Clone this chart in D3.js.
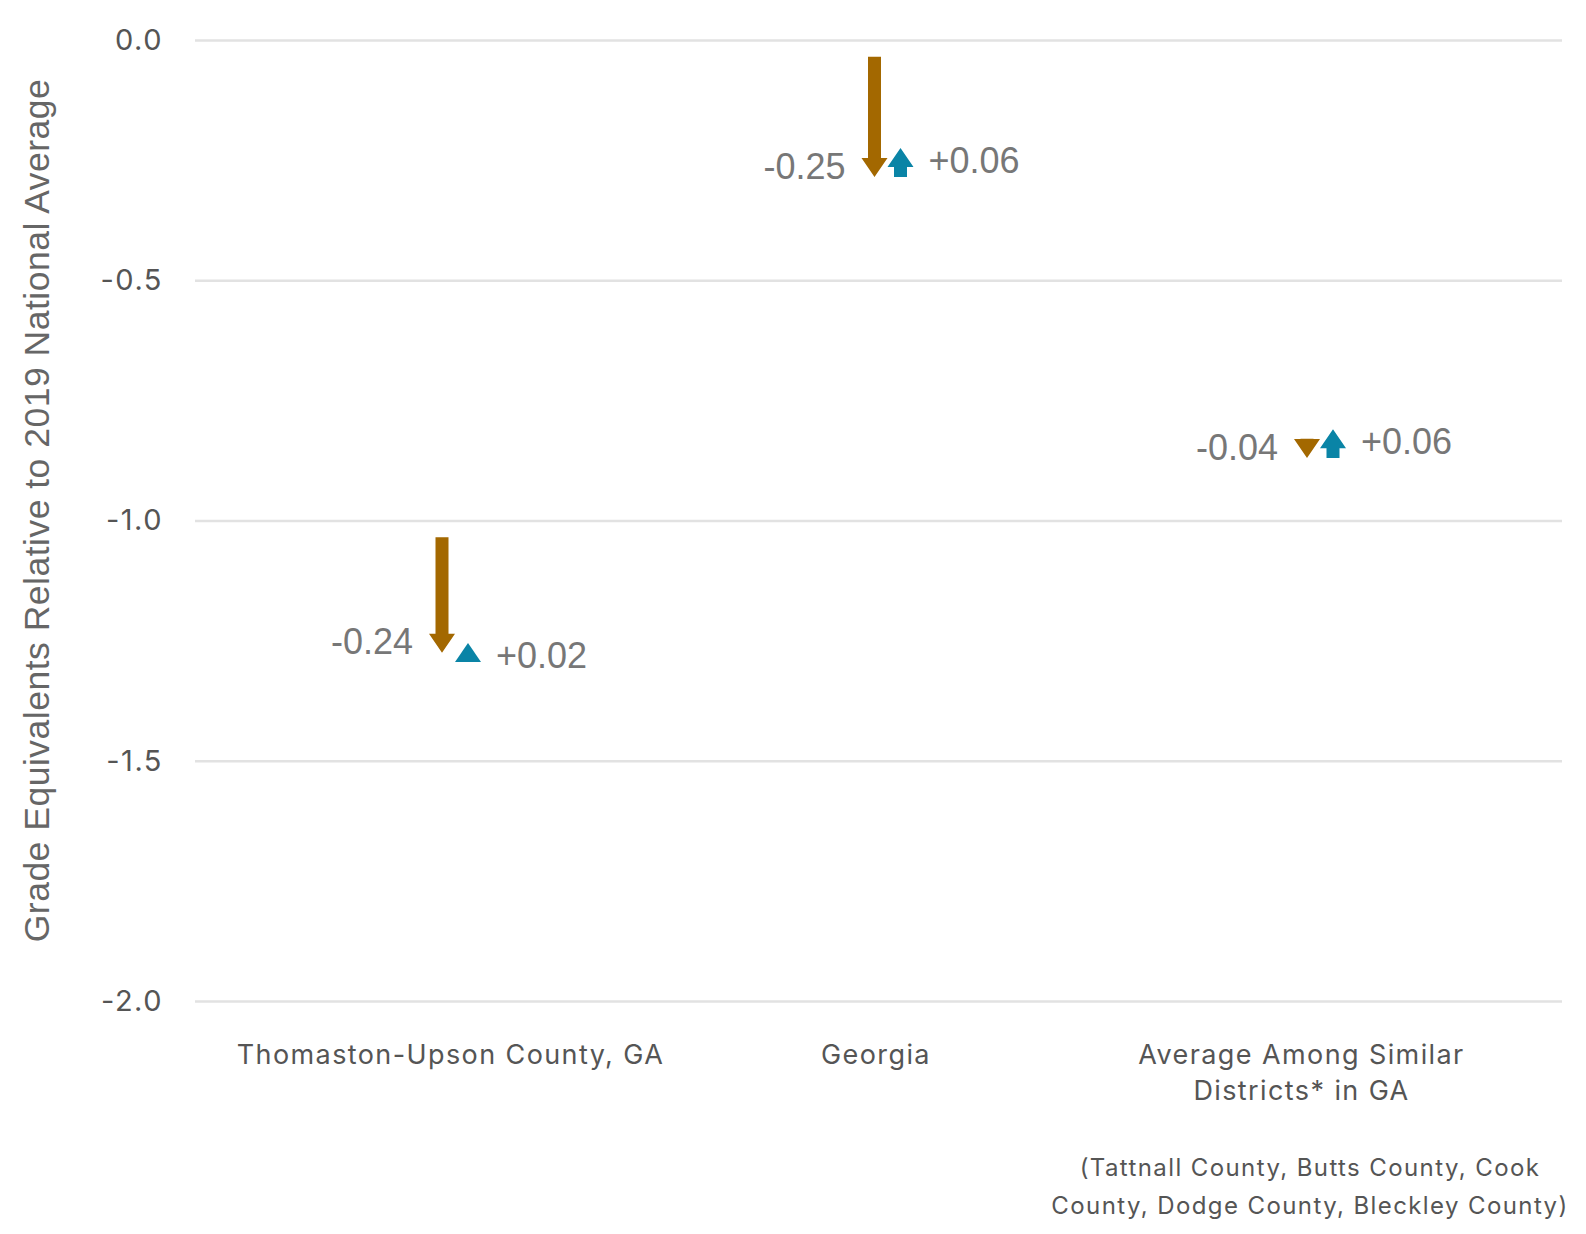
<!DOCTYPE html>
<html>
<head>
<meta charset="utf-8">
<script src="https://cdn.jsdelivr.net/npm/d3@7"></script>
<style>
  html, body { margin: 0; padding: 0; background: #fff; overflow: hidden; }
  svg { display: block; }
</style>
</head>
<body>
<svg id="viz"></svg>
<script>
const width = 1586, height = 1234;

// data
const categories = ["Thomaston-Upson County, GA", "Georgia", "Average Among Similar Districts* in GA"];
const startVals = [-1.035, -0.035, -0.83];
const dropVals = [-0.24, -0.25, -0.04];
const recoveryVals = [0.02, 0.06, 0.06];
const dropLabels = ["-0.24", "-0.25", "-0.04"];
const recoveryLabels = ["+0.02", "+0.06", "+0.06"];
const yTicks = [0, -0.5, -1.0, -1.5, -2.0];
const footnote = ["(Tattnall County, Butts County, Cook", "County, Dodge County, Bleckley County)"];

const brown = "#a36800", blue = "#0a84a6";
const left = 195, right = 1562;

const svg = d3.select("#viz").attr("width", width).attr("height", height);

const y = d3.scaleLinear().domain([0, -2]).range([40, 1001]);
const x = d3.scalePoint().domain(categories).range([left + 260, right - 242]);
const xLab = d3.scalePoint().domain(categories).range([left + 255, right - 261]);

// grid + ticks
const yAxis = d3.axisLeft(y).tickValues(yTicks).tickFormat(d => d.toFixed(1)).tickSize(-(right - left)).tickPadding(32);
const gy = svg.append("g").attr("transform", "translate(" + left + ",0)").call(yAxis);
gy.select(".domain").remove();
gy.selectAll(".tick line").attr("stroke", "#e2e2e2").attr("stroke-width", 2.5);
gy.selectAll(".tick text")
  .attr("fill", "#555")
  .attr("font-family", "Inter, sans-serif")
  .attr("font-size", 29)
  .attr("letter-spacing", "1.5px");

// category labels
const xAxis = d3.axisBottom(xLab).tickSize(0).tickPadding(0);
const gx = svg.append("g").attr("transform", "translate(0,1055)").call(xAxis);
gx.select(".domain").remove();
gx.selectAll(".tick text")
  .attr("fill", "#555")
  .attr("font-family", "Inter, sans-serif")
  .attr("font-size", 27)
  .attr("letter-spacing", "1.4px")
  .attr("dy", null)
  .each(function(d) {
    const t = d3.select(this);
    t.text(null);
    const lines = d.startsWith("Average") ? ["Average Among Similar", "Districts* in GA"] : [d];
    lines.forEach((l, i) => t.append("tspan").attr("x", 0).attr("y", i * 36).attr("dy", "0.35em").text(l));
  });

// footnote
svg.append("text")
  .attr("x", 1310).attr("y", 1168)
  .attr("text-anchor", "middle")
  .attr("fill", "#555")
  .attr("font-family", "Inter, sans-serif")
  .attr("font-size", 24)
  .attr("letter-spacing", "1.4px")
  .selectAll("tspan").data(footnote).enter().append("tspan")
  .attr("x", 1310).attr("dy", (d, i) => i === 0 ? "0.35em" : "38px")
  .text(d => d);

// y title
svg.append("text")
  .attr("transform", "translate(37," + ((y(0) + y(-2)) / 2 - 10) + ") rotate(-90)")
  .attr("text-anchor", "middle")
  .attr("dy", "0.35em")
  .attr("fill", "#666")
  .attr("font-family", "'Liberation Sans', Arial, sans-serif")
  .attr("font-size", 35.5)
  .attr("letter-spacing", "0.5px")
  .text("Grade Equivalents Relative to 2019 National Average");

// arrow: tip at v1, fixed head size, shaft only where it fits
function arrowPath(cx, v0, v1) {
  const shaftW = 13, headW = 26, headH = 19;
  const p0 = y(v0), p1 = y(v1);
  const dir = p1 > p0 ? 1 : -1;
  const base = p1 - dir * headH;
  let d = "";
  if ((base - p0) * dir > 0) {
    d += "M" + (cx - shaftW / 2) + "," + p0 + "H" + (cx + shaftW / 2) + "V" + base + "H" + (cx - shaftW / 2) + "Z";
  }
  d += "M" + (cx - headW / 2) + "," + base + "L" + cx + "," + p1 + "L" + (cx + headW / 2) + "," + base + "Z";
  return d;
}

const rows = categories.map((c, i) => ({
  cat: c,
  start: startVals[i],
  mid: startVals[i] + dropVals[i],
  end: startVals[i] + dropVals[i] + recoveryVals[i],
  dl: dropLabels[i],
  rl: recoveryLabels[i]
}));

const marks = svg.append("g");

marks.selectAll("path.drop")
  .data(rows).enter().append("path")
  .attr("class", "drop")
  .attr("d", d => arrowPath(x(d.cat) - 13, d.start, d.mid))
  .attr("fill", brown);

marks.selectAll("path.rec")
  .data(rows).enter().append("path")
  .attr("class", "rec")
  .attr("d", d => arrowPath(x(d.cat) + 13, d.mid, d.end))
  .attr("fill", blue);

marks.selectAll("text.dl")
  .data(rows).enter().append("text")
  .attr("class", "dl")
  .attr("x", d => x(d.cat) - 13 - 29)
  .attr("y", d => y(d.mid) - 11)
  .attr("dy", "0.35em")
  .attr("text-anchor", "end")
  .attr("fill", "#777")
  .attr("font-family", "'Liberation Sans', Arial, sans-serif")
  .attr("font-size", 36)
  .text(d => d.dl);

marks.selectAll("text.rl")
  .data(rows).enter().append("text")
  .attr("class", "rl")
  .attr("x", d => x(d.cat) + 13 + 28)
  .attr("y", d => y(d.end) + 12)
  .attr("dy", "0.35em")
  .attr("fill", "#777")
  .attr("font-family", "'Liberation Sans', Arial, sans-serif")
  .attr("font-size", 36)
  .text(d => d.rl);
</script>
</body>
</html>
